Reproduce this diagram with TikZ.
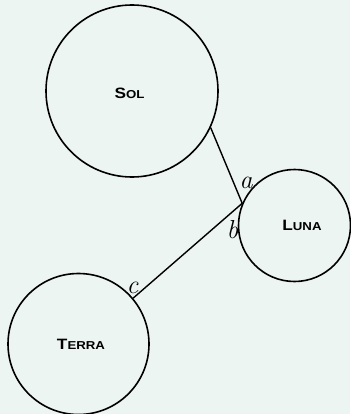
\documentclass[tikz,border=0pt]{standalone}
\usepackage{fontspec}
\setsansfont{Liberation Sans}
\definecolor{paper}{HTML}{EDF5F2}
\newcommand{\bodyname}[2]{\scalebox{1.15}[1]{\sffamily\bfseries\fontsize{15}{15}\selectfont #1\fontsize{11.5}{11.5}\selectfont #2}}
\tikzset{
  body/.style={circle, draw, line width=1.6pt, inner sep=0pt},
  bodytext/.style={inner sep=0pt, anchor=base},
  letter/.style={inner sep=0pt, font=\rmfamily\itshape\fontsize{26}{26}\selectfont},
  ray/.style={line width=1.4pt},
}
\begin{document}
\begin{tikzpicture}[x=1pt,y=-1pt]
		%%%%% BODIES %%%%%
		\fill[paper] (0,0) rectangle (350,414);
		\useasboundingbox (0,0) rectangle (350,414);
		
		\node[body, minimum size=172pt] (sol) at (132,91) {};
		\node[body, minimum size=112pt] (luna) at (294.5,225.5) {};
		\node[body, minimum size=141pt] (terra) at (78.5,344) {};
		
		\node[bodytext] (solname) at (129.5,99) {\bodyname{S}{OL}};
		\node[bodytext] (lunaname) at (302,230) {\bodyname{L}{UNA}};
		\node[bodytext] (terraname) at (81,349) {\bodyname{T}{ERRA}};
		
		%%%%% RAYS %%%%%
		\draw[ray] (sol.-25.4) -- (luna.157.3);
		\draw[ray] (luna.157.3) -- (terra.40.2);
		
		\node[letter] (a) at (246,183) {a};
		\node[letter] (b) at (232.5,230) {b};
		\node[letter] (c) at (132.5,287.5) {c};
		
\end{tikzpicture}
\end{document}
